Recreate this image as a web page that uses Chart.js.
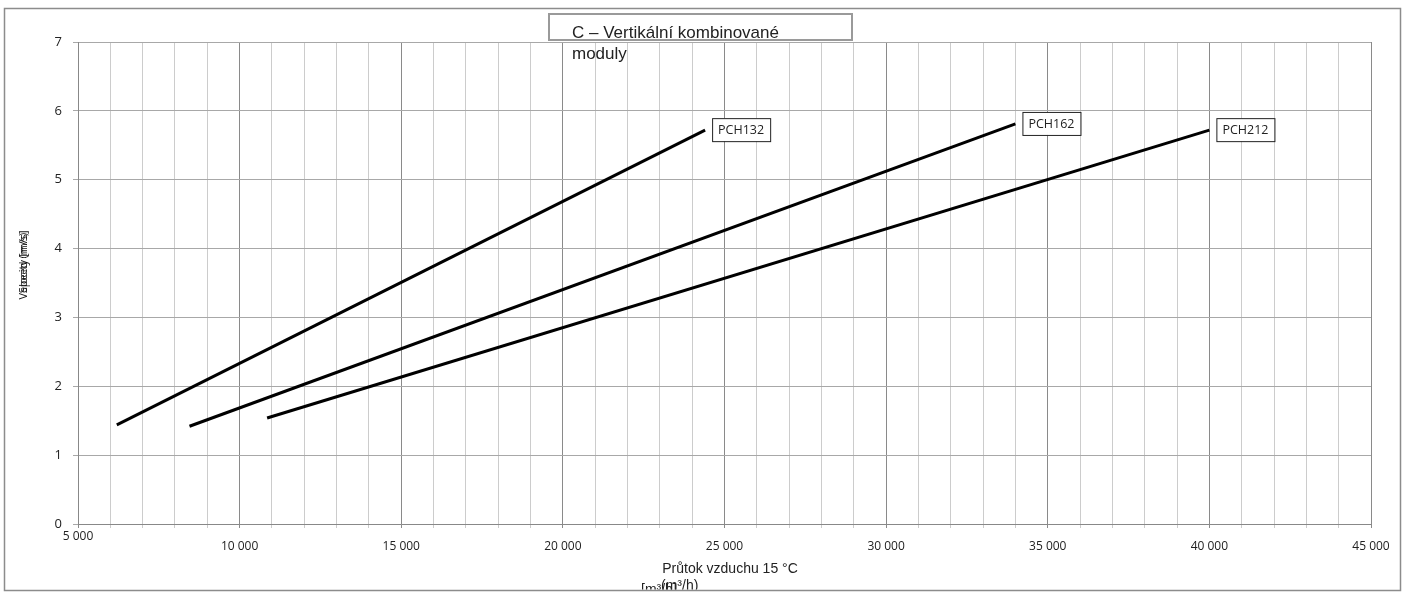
<!DOCTYPE html>
<html>
<head>
<meta charset="utf-8">
<script src="https://cdn.jsdelivr.net/npm/chart.js@4/dist/chart.umd.min.js"></script>
<style>
  html, body { margin: 0; padding: 0; background: #fff; }
  #wrap { position: relative; width: 1408px; height: 594px; }
</style>
</head>
<body>
<div id="wrap"><canvas id="graf" width="1408" height="594"></canvas></div>
<script>
// --- data ---
const series = ['PCH132', 'PCH162', 'PCH212'];
const flow132 = [6200, 24400];
const speed132 = [1.44, 5.72];
const flow162 = [8450, 34000];
const speed162 = [1.42, 5.81];
const flow212 = [10850, 40000];
const speed212 = [1.54, 5.72];
const xTicks = [5000, 10000, 15000, 20000, 25000, 30000, 35000, 40000, 45000];
const yTicks = [0, 1, 2, 3, 4, 5, 6, 7];

const titleLines = ['C – Vertikální kombinované', 'moduly'];
const xTitle = 'Průtok vzduchu 15 °C';

function pts(xs, ys) {
    return xs.map((x, i) => ({ x: x, y: ys[i] }));
}
function fmt(v) {
    return String(v).replace(/\B(?=(\d{3})+(?!\d))/g, ' ');
}

// frame, title box, axis titles and the series labels
const kreslit = {
    id: 'kreslit',
    beforeDraw(chart) {
        const c = chart.ctx;
        c.save();
        c.fillStyle = '#fff';
        c.fillRect(0, 0, chart.width, chart.height);
        c.restore();
    },
    afterDraw(chart) {
        const c = chart.ctx;
        const xs = chart.scales.x, ys = chart.scales.y;
        c.save();
        // outer frame
        c.strokeStyle = '#8c8c8c';
        c.lineWidth = 1.5;
        c.strokeRect(4.5, 8.5, 1396, 582);

        // first x label sits a bit higher in the original
        c.fillStyle = '#222';
        c.font = '12px "Open Sans", sans-serif';
        c.textAlign = 'center';
        c.textBaseline = 'middle';
        c.fillText(fmt(xTicks[0]), xs.getPixelForValue(xTicks[0]), 537);

        // title box
        c.fillStyle = '#fff';
        c.fillRect(549, 14, 303, 26);
        c.strokeStyle = '#9a9a9a';
        c.lineWidth = 2;
        c.strokeRect(549, 14, 303, 26);
        c.fillStyle = '#222';
        c.font = '17px "Liberation Sans", Arial, sans-serif';
        c.textBaseline = 'alphabetic';
        c.textAlign = 'left';
        c.fillText(titleLines[0], 572, 38);
        c.fillText(titleLines[1], 572, 59);

        // x axis title (overlapping unit labels as in the original)
        c.textAlign = 'center';
        c.font = '14px "Liberation Sans", Arial, sans-serif';
        c.fillText(xTitle, 730, 573);
        c.save();
        c.beginPath();
        c.rect(0, 574, 1408, 15.5);
        c.clip();
        c.textAlign = 'left';
        c.fillText('[m³/h]', 641, 594);
        c.fillText('(m³/h)', 661, 590);
        c.restore();

        // y axis title (overlapping text)
        c.save();
        c.translate(27, 265);
        c.rotate(-Math.PI / 2);
        c.textAlign = 'center';
        c.font = '11px "Open Sans", sans-serif';
        c.fillStyle = '#111';
        c.fillText('Velocity [m/s]', 0, 0);
        c.fillText('Speed (m/s)', 2, 0);
        c.restore();

        // series labels at the end of each line
        c.font = '12.5px "Open Sans", sans-serif';
        c.textAlign = 'left';
        c.textBaseline = 'middle';
        chart.data.datasets.forEach(ds => {
            const last = ds.data[ds.data.length - 1];
            const px = xs.getPixelForValue(last.x);
            const py = ys.getPixelForValue(last.y);
            const w = c.measureText(ds.label).width + 12;
            const bx = px + 7, by = py - 12;
            c.fillStyle = '#fff';
            c.fillRect(bx, by, w, 23);
            c.strokeStyle = '#222';
            c.lineWidth = 1;
            c.strokeRect(bx + 0.5, by + 0.5, w, 23);
            c.fillStyle = '#222';
            c.fillText(ds.label, bx + 6, by + 12.5);
        });
        c.restore();
    }
};

const lineStyle = {
    borderColor: '#000',
    borderWidth: 3,
    pointRadius: 0,
    showLine: true,
    fill: false,
    tension: 0
};

new Chart(document.getElementById('graf'), {
    type: 'scatter',
    data: {
        datasets: [
            Object.assign({ label: series[0], data: pts(flow132, speed132) }, lineStyle),
            Object.assign({ label: series[1], data: pts(flow162, speed162) }, lineStyle),
            Object.assign({ label: series[2], data: pts(flow212, speed212) }, lineStyle)
        ]
    },
    options: {
        responsive: false,
        animation: false,
        devicePixelRatio: 1,
        layout: { padding: { top: 42, right: 37, left: 0, bottom: 0 } },
        plugins: {
            legend: { display: false },
            tooltip: { enabled: false }
        },
        scales: {
            x: {
                type: 'linear',
                min: xTicks[0],
                max: xTicks[xTicks.length - 1],
                afterFit: s => { s.height = 70; },
                afterBuildTicks: s => {
                    const t = [];
                    for (let v = s.min; v <= s.max; v += 1000) t.push({ value: v });
                    s.ticks = t;
                },
                border: { color: '#888', width: 1 },
                grid: {
                    color: ctx => (ctx.tick && ctx.tick.value % 5000 === 0) ? '#8a8a8a' : '#cccccc',
                    lineWidth: 1,
                    tickLength: 4
                },
                ticks: {
                    autoSkip: false,
                    maxRotation: 0,
                    padding: 11,
                    color: '#222',
                    font: { family: '"Open Sans", sans-serif', size: 12 },
                    callback: v => (xTicks.includes(v) && v !== xTicks[0]) ? fmt(v) : ''
                }
            },
            y: {
                min: yTicks[0],
                max: yTicks[yTicks.length - 1],
                afterFit: s => { s.width = 78; },
                afterBuildTicks: s => { s.ticks = yTicks.map(v => ({ value: v })); },
                border: { color: '#888', width: 1 },
                grid: { color: '#a8a8a8', lineWidth: 1, tickLength: 5 },
                ticks: {
                    padding: 11,
                    color: '#222',
                    font: { family: '"Open Sans", sans-serif', size: 13 }
                }
            }
        }
    },
    plugins: [kreslit]
});
</script>
</body>
</html>
